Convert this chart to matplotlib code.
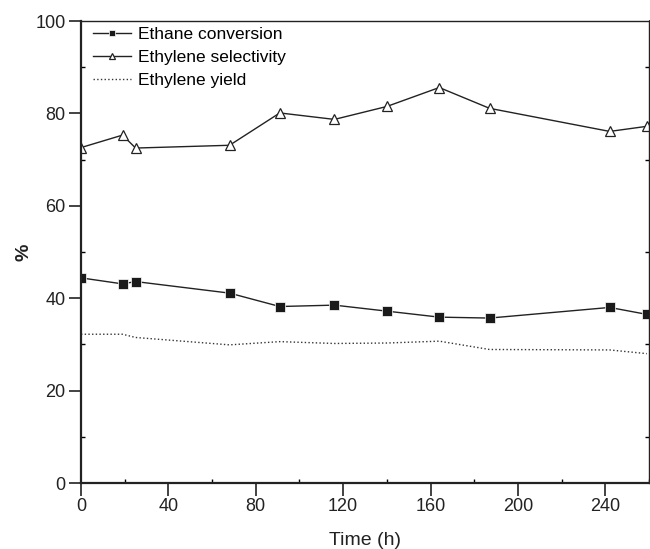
import matplotlib
matplotlib.use('Agg')
import matplotlib.pyplot as plt
from matplotlib.ticker import MultipleLocator

plt.rcParams['font.family'] = ['Liberation Sans', 'DejaVu Sans']

# time on stream (h)
time_h = [0, 19, 25, 68, 91, 116, 140, 164, 187, 242, 259]
conversion = [44.4, 43.1, 43.6, 41.1, 38.2, 38.5, 37.2, 35.9, 35.7, 38.0, 36.5]
selectivity = [72.6, 75.3, 72.5, 73.1, 80.1, 78.7, 81.5, 85.6, 81.1, 76.1, 77.2]
yield_ = [32.2, 32.2, 31.5, 29.9, 30.6, 30.2, 30.3, 30.7, 28.9, 28.8, 28.0]

fig = plt.figure(figsize=(6.5, 5.49), dpi=100)
ax = fig.add_axes([81 / 650, 1 - 483 / 549, 568 / 650, 462 / 549])

ax.plot(time_h, conversion, '-', color='#222222', lw=1.0, marker='s', ms=6.5,
        mfc='#1a1a1a', mec='white', mew=0.5, label='Ethane conversion')
ax.plot(time_h, selectivity, '-', color='#222222', lw=1.0, marker='^', ms=7,
        mfc='white', mec='#222222', mew=0.9, label='Ethylene selectivity')
ax.plot(time_h, yield_, ':', color='#333333', lw=1.0, label='Ethylene yield')

ax.set_xlim(0, 260)
ax.set_ylim(0, 100)
ax.xaxis.set_major_locator(MultipleLocator(40))
ax.xaxis.set_minor_locator(MultipleLocator(20))
ax.yaxis.set_major_locator(MultipleLocator(20))
ax.yaxis.set_minor_locator(MultipleLocator(10))
ax.tick_params(which='major', direction='out', length=9, width=1.2, labelsize=13,
               colors='#222222', pad=2)
ax.tick_params(which='minor', direction='in', length=3, width=1.0)
ax.tick_params(which='both', right=True)

for sp in ax.spines.values():
    sp.set_linewidth(1.0)
    sp.set_color('#222222')
ax.spines['left'].set_linewidth(1.6)
ax.spines['bottom'].set_linewidth(1.6)

ax.set_xlabel('Time (h)', fontsize=14, labelpad=12, color='#222222')
ax.set_ylabel('%', fontsize=14, fontweight='bold', labelpad=2, color='#222222')

ax.legend(loc='upper left', frameon=False, fontsize=12.5, handlelength=2.2,
          handletextpad=0.4, labelspacing=0.45, borderaxespad=0.3,
          markerscale=0.7, bbox_to_anchor=(0.0, 1.014))

plt.savefig('out.png', dpi=100)
